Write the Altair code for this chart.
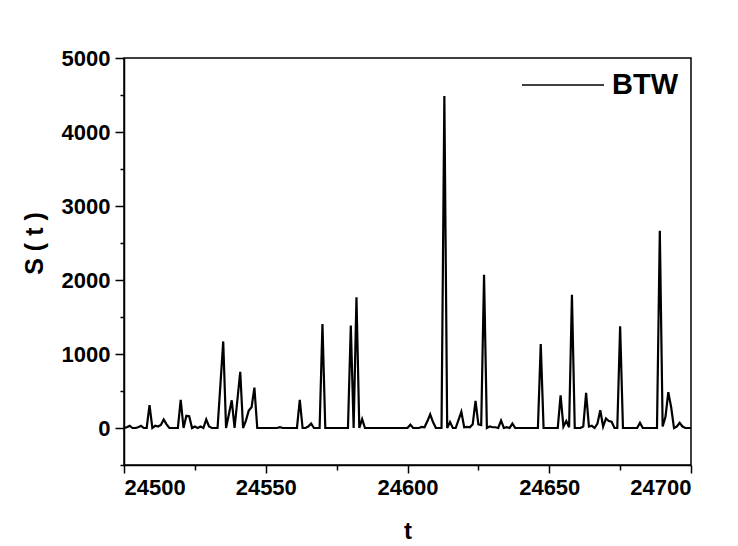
import altair as alt
import pandas as pd

# Time steps of the sandpile avalanche series
t_first = 24500
t_last = 24700

# Avalanche size S(t) for t = 24500 ... 24700
s_values = [
    0, 10, 30, 0, 0, 10, 30, 0, 0, 310,          # 24500-24509
    0, 30, 20, 40, 115, 50, 0, 0, 0, 0,          # 24510-24519
    380, 0, 165, 160, 0, 20, 0, 20, 0, 115,      # 24520-24529
    20, 0, 0, 0, 580, 1170, 0, 185, 375, 0,      # 24530-24539
    380, 760, 0, 100, 235, 280, 545, 0, 0, 0,    # 24540-24549
    0, 0, 0, 0, 0, 10, 0, 0, 0, 0,               # 24550-24559
    0, 0, 380, 0, 0, 20, 60, 0, 0, 0,            # 24560-24569
    1405, 0, 0, 0, 0, 0, 0, 0, 0, 0,             # 24570-24579
    1385, 0, 1765, 0, 120, 0, 0, 0, 0, 0,        # 24580-24589
    0, 0, 0, 0, 0, 0, 0, 0, 0, 0,                # 24590-24599
    0, 45, 0, 0, 0, 15, 10, 90, 185, 80,         # 24600-24609
    0, 0, 0, 4485, 0, 80, 0, 0, 110, 220,        # 24610-24619
    10, 15, 10, 50, 365, 50, 40, 2070, 0, 20,    # 24620-24629
    10, 10, 0, 100, 0, 10, 0, 60, 0, 0,          # 24630-24639
    0, 0, 0, 0, 0, 0, 0, 1135, 0, 0,             # 24640-24649
    0, 0, 0, 0, 440, 20, 95, 10, 1800, 0,        # 24650-24659
    0, 0, 20, 475, 20, 30, 0, 60, 240, 20,       # 24660-24669
    130, 95, 85, 0, 0, 1375, 0, 0, 0, 0,         # 24670-24679
    0, 0, 70, 0, 0, 0, 0, 0, 0, 2665,            # 24680-24689
    20, 150, 485, 280, 0, 20, 70, 20, 0, 0,      # 24690-24699
    0,                                           # 24700
]
t_values = list(range(t_first, t_last + 1))
series_name = ["BTW"] * len(t_values)

y_ticks = [-500, 0, 500, 1000, 1500, 2000, 2500, 3000, 3500, 4000, 4500, 5000]
x_ticks = [24500, 24525, 24550, 24575, 24600, 24625, 24650, 24675, 24700]

df = pd.DataFrame({"t": t_values, "S": s_values, "model": series_name})

FONT = "Liberation Sans"

x_axis = alt.Axis(
    title="t",
    values=x_ticks,
    format="d",
    labelExpr="datum.value % 50 === 0 ? datum.label : ''",
    tickSize={"condition": {"test": "datum.value % 50 === 0", "value": 8}, "value": 5},
    labelOverlap=False,
    labelFontSize=22,
    labelFontWeight="bold",
    labelPadding=4,
    titleFontSize=24,
    titleFontWeight="bold",
    titlePadding=21,
    grid=False,
)

y_axis = alt.Axis(
    title="S ( t )",
    values=y_ticks,
    format="d",
    labelExpr="datum.value % 1000 === 0 && datum.value >= 0 ? datum.label : ''",
    tickSize={"condition": {"test": "datum.value % 1000 === 0", "value": 9}, "value": 4},
    labelOverlap=False,
    labelFontSize=22,
    labelFontWeight="bold",
    labelPadding=5,
    titleFontSize=25,
    titleFontWeight="bold",
    titlePadding=14,
    titleY=185,
    grid=False,
)

chart = (
    alt.Chart(df)
    .mark_line(strokeWidth=2.2, interpolate="linear")
    .encode(
        x=alt.X("t:Q", scale=alt.Scale(domain=[t_first, t_last], nice=False, zero=False), axis=x_axis),
        y=alt.Y("S:Q", scale=alt.Scale(domain=[-500, 5000], nice=False), axis=y_axis),
        color=alt.Color(
            "model:N",
            scale=alt.Scale(domain=["BTW"], range=["black"]),
            legend=alt.Legend(
                title=None,
                orient="none",
                legendX=397,
                legendY=-15,
                padding=0,
                symbolType="stroke",
                symbolSize=6724,
                symbolStrokeWidth=1.5,
                labelFontSize=29,
                labelFontWeight="bold",
                labelFont=FONT,
                labelOffset=7,
            ),
        ),
    )
    .properties(
        width=567,
        height=407,
        autosize=alt.AutoSizeParams(type="none"),
        padding={"left": 124, "top": 58, "right": 47, "bottom": 81},
        background="white",
    )
    .configure_view(stroke="black", strokeWidth=1.5)
    .configure_axis(
        labelFont=FONT,
        titleFont=FONT,
        labelColor="black",
        titleColor="black",
        domainColor="black",
        tickColor="black",
        domainWidth=1.5,
        tickWidth=1.5,
    )
)

chart.save("out.html", embed_options={"renderer": "svg", "actions": False})
